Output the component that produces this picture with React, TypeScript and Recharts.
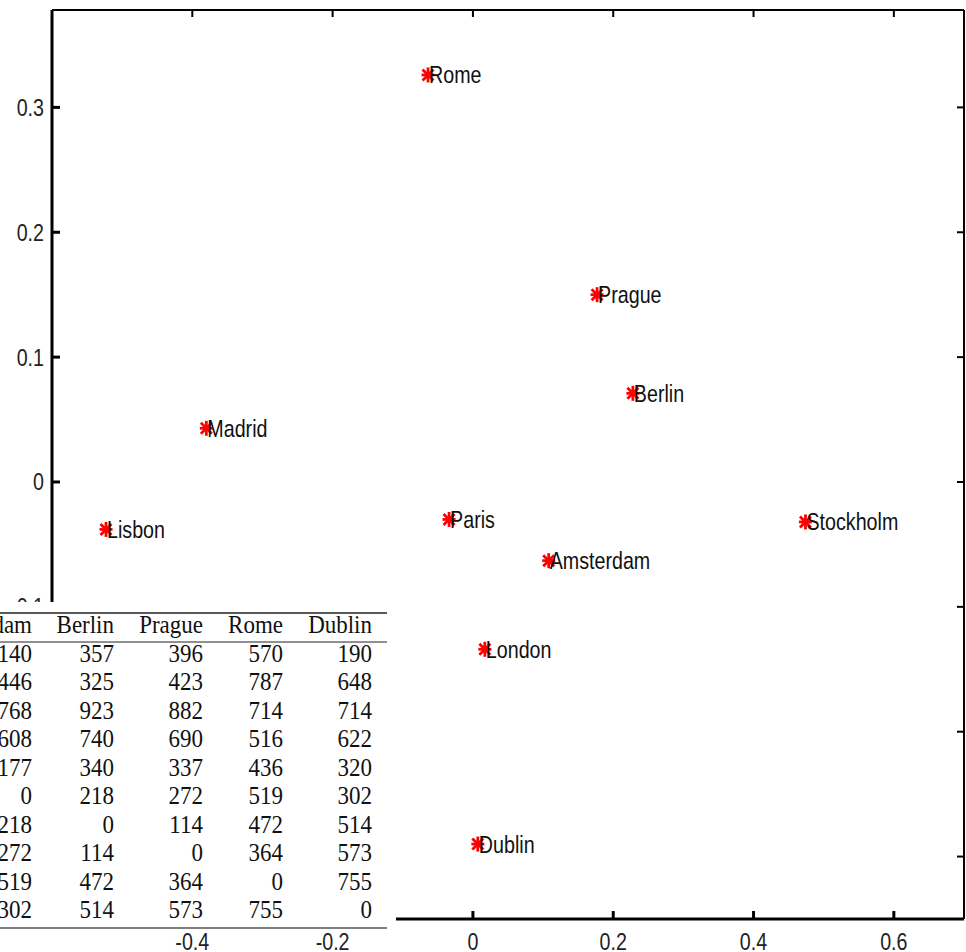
import React from 'react';
import { ScatterChart, Scatter, XAxis, YAxis } from 'recharts';

const cities = ['Rome', 'Prague', 'Berlin', 'Madrid', 'Lisbon', 'Paris', 'Stockholm', 'Amsterdam', 'London', 'Dublin'];
const coordX = [-0.064, 0.177, 0.228, -0.38, -0.523, -0.034, 0.474, 0.108, 0.017, 0.007];
const coordY = [0.326, 0.15, 0.071, 0.043, -0.038, -0.03, -0.032, -0.063, -0.134, -0.29];

const xTicks = [-0.4, -0.2, 0, 0.2, 0.4, 0.6];
const yTicks = [-0.3, -0.2, -0.1, 0, 0.1, 0.2, 0.3];
const xDomain = [-0.6, 0.7];
const yDomain = [-0.35, 0.378];

const tableHeaders = ['Amsterdam', 'Berlin', 'Prague', 'Rome', 'Dublin'];
const colAmsterdam = ['140', '446', '768', '608', '177', '0', '218', '272', '519', '302'];
const colBerlin = ['357', '325', '923', '740', '340', '218', '0', '114', '472', '514'];
const colPrague = ['396', '423', '882', '690', '337', '272', '114', '0', '364', '573'];
const colRome = ['570', '787', '714', '516', '436', '519', '472', '364', '0', '755'];
const colDublin = ['190', '648', '714', '622', '320', '302', '514', '573', '755', '0'];
const tableColumns = [colAmsterdam, colBerlin, colPrague, colRome, colDublin];

const data = cities.map((name, i) => ({ name, x: coordX[i], y: coordY[i] }));

const SANS = "'Liberation Sans', Arial, sans-serif";
const SERIF = "'Liberation Serif', 'DejaVu Serif', serif";
const NARROW = 0.82;

const fmt = (v: number) => {
  const r = Math.round(v * 10) / 10;
  if (r === 0) return '0';
  return String(r);
};

const NarrowText = ({ x, y, anchor, children, fill = '#222', size = 24 }: any) => (
  <text
    transform={`translate(${x},${y}) scale(${NARROW},1)`}
    x={0}
    y={0}
    textAnchor={anchor}
    fontFamily={SANS}
    fontSize={size}
    fill={fill}
  >
    {children}
  </text>
);

const BottomTick = (props: any) => {
  const { x, y, payload } = props;
  return (
    <g>
      <line x1={x} x2={x} y1={y} y2={y - 8} stroke="#000" strokeWidth={3} />
      <NarrowText x={x} y={y + 31} anchor="middle">
        {fmt(payload.value)}
      </NarrowText>
    </g>
  );
};

const LeftTick = (props: any) => {
  const { x, y, payload } = props;
  const visible = payload.value > -0.15;
  return (
    <g>
      <line x1={x} x2={x + 8} y1={y} y2={y} stroke="#000" strokeWidth={3} />
      {visible && (
        <NarrowText x={x - 8} y={y + 8.5} anchor="end">
          {fmt(payload.value)}
        </NarrowText>
      )}
    </g>
  );
};

const TopTick = (props: any) => {
  const { x, y } = props;
  return <line x1={x} x2={x} y1={y} y2={y + 7} stroke="#000" strokeWidth={2} />;
};

const RightTick = (props: any) => {
  const { x, y } = props;
  return <line x1={x} x2={x - 7} y1={y} y2={y} stroke="#000" strokeWidth={2} />;
};

const CityMarker = (props: any) => {
  const { cx, cy, payload } = props;
  const c = '#ff0000';
  return (
    <g>
      <line x1={cx - 6.5} x2={cx + 6.5} y1={cy} y2={cy} stroke={c} strokeWidth={2.8} />
      <line x1={cx} x2={cx} y1={cy - 7.5} y2={cy + 7.5} stroke={c} strokeWidth={2.8} />
      <line x1={cx - 5.5} x2={cx + 5.5} y1={cy - 5.5} y2={cy + 5.5} stroke={c} strokeWidth={2.8} />
      <line x1={cx - 5.5} x2={cx + 5.5} y1={cy + 5.5} y2={cy - 5.5} stroke={c} strokeWidth={2.8} />
      <NarrowText x={cx + 1} y={cy + 8.5} anchor="start" fill="#111">
        {payload.name}
      </NarrowText>
    </g>
  );
};

const colRight = [32, 114, 203, 283, 372];

const TableOverlay = () => (
  <svg
    width={966}
    height={952}
    style={{ position: 'absolute', left: 0, top: 0, pointerEvents: 'none' }}
  >
    <rect x={0} y={602} width={396} height={329} fill="#fff" />
    <line x1={0} x2={387} y1={613} y2={613} stroke="#222" strokeWidth={1.6} />
    <line x1={0} x2={387} y1={642} y2={642} stroke="#222" strokeWidth={1.2} />
    <line x1={0} x2={387} y1={928} y2={928} stroke="#555" strokeWidth={1.4} />
    {tableHeaders.map((h, j) => (
      <text
        key={h}
        transform={`translate(${colRight[j]},633) scale(1,1.08)`}
        x={0}
        y={0}
        textAnchor="end"
        fontFamily={SERIF}
        fontSize={23}
        fill="#111"
      >
        {h}
      </text>
    ))}
    {tableColumns.map((col, j) =>
      col.map((v, i) => (
        <text
          key={`${j}-${i}`}
          transform={`translate(${colRight[j]},${662 + i * 28.44}) scale(1,1.08)`}
          x={0}
          y={0}
          textAnchor="end"
          fontFamily={SERIF}
          fontSize={23}
          fill="#111"
        >
          {v}
        </text>
      ))
    )}
  </svg>
);

export default function App() {
  return (
    <div style={{ position: 'absolute', left: 0, top: 0, width: 966, height: 952, background: '#fff' }}>
      <ScatterChart width={966} height={952} margin={{ top: 9, right: 1, bottom: 0, left: 0 }}>
        <XAxis
          type="number"
          dataKey="x"
          xAxisId={0}
          domain={xDomain}
          ticks={xTicks}
          allowDataOverflow
          height={33}
          tickSize={0}
          tickMargin={0}
          axisLine={{ stroke: '#000', strokeWidth: 3 }}
          tick={<BottomTick />}
          interval={0}
        />
        <XAxis
          type="number"
          dataKey="x"
          xAxisId="top"
          orientation="top"
          domain={xDomain}
          ticks={xTicks}
          allowDataOverflow
          height={1}
          tickSize={0}
          tickMargin={0}
          axisLine={{ stroke: '#000', strokeWidth: 2 }}
          tick={<TopTick />}
          interval={0}
        />
        <YAxis
          type="number"
          dataKey="y"
          yAxisId={0}
          domain={yDomain}
          ticks={yTicks}
          allowDataOverflow
          width={52}
          tickSize={0}
          tickMargin={0}
          axisLine={{ stroke: '#000', strokeWidth: 3 }}
          tick={<LeftTick />}
          interval={0}
        />
        <YAxis
          type="number"
          dataKey="y"
          yAxisId="right"
          orientation="right"
          domain={yDomain}
          ticks={yTicks}
          allowDataOverflow
          width={1}
          tickSize={0}
          tickMargin={0}
          axisLine={{ stroke: '#000', strokeWidth: 2 }}
          tick={<RightTick />}
          interval={0}
        />
        <Scatter
          data={data}
          xAxisId={0}
          yAxisId={0}
          shape={<CityMarker />}
          isAnimationActive={false}
        />
      </ScatterChart>
      <TableOverlay />
    </div>
  );
}
